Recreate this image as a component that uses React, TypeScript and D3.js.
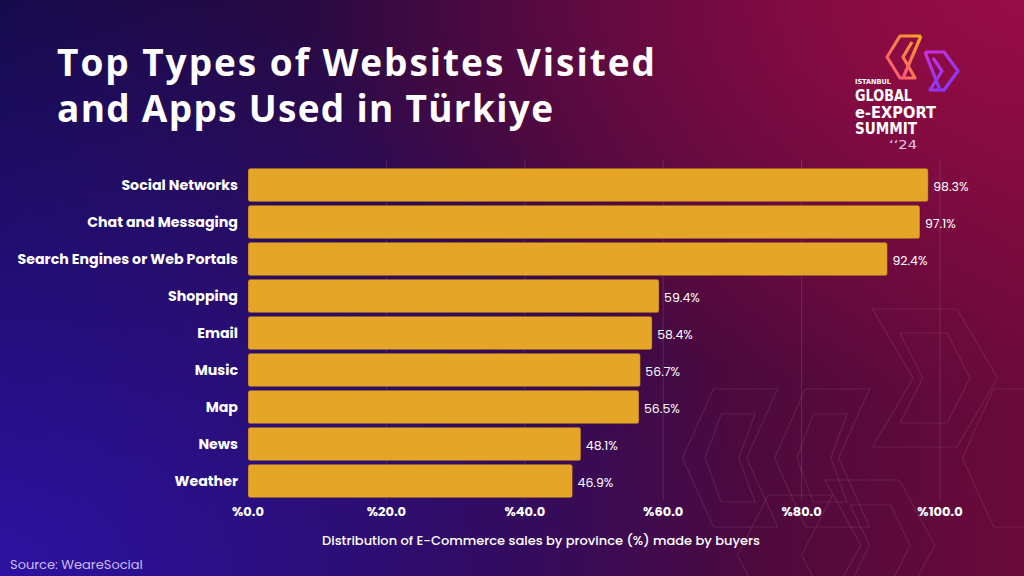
import React from "react";
import * as d3 from "d3";

const categories = [
  "Social Networks",
  "Chat and Messaging",
  "Search Engines or Web Portals",
  "Shopping",
  "Email",
  "Music",
  "Map",
  "News",
  "Weather",
];
const values = [98.3, 97.1, 92.4, 59.4, 58.4, 56.7, 56.5, 48.1, 46.9];
const tickValues = [0, 20, 40, 60, 80, 100];
const tickLabels = ["%0.0", "%20.0", "%40.0", "%60.0", "%80.0", "%100.0"];
const titleLines = ["Top Types of Websites Visited", "and Apps Used in Türkiye"];
const titleWidths = [598, 496];
const axisTitle = "Distribution of E-Commerce sales by province (%) made by buyers";
const sourceText = "Source: WeareSocial";

const W = 1024;
const H = 576;

function chevronPath(cx: number, cy: number, w: number, h: number, dir: number) {
  const hw = w / 2;
  const hh = h / 2;
  const pts = [
    [cx - hw, cy - hh],
    [cx + hw * 0.35, cy - hh],
    [cx + hw, cy],
    [cx + hw * 0.35, cy + hh],
    [cx - hw, cy + hh],
    [cx - hw * 0.35, cy],
  ].map(([px, py]) => [cx + (px - cx) * dir, py]);
  return "M" + pts.map((p) => p.join(",")).join("L") + "Z";
}

export default function App() {
  const x = d3.scaleLinear().domain([0, 100]).range([248, 940]);
  const y = d3
    .scaleBand<string>()
    .domain(categories)
    .range([166.5, 499.5])
    .paddingInner(0.1)
    .paddingOuter(0.05);

  const decor = [
    { cx: 935, cy: 378, w: 125, h: 138, dir: 1 },
    { cx: 935, cy: 378, w: 70, h: 90, dir: 1 },
    { cx: 730, cy: 458, w: 95, h: 138, dir: -1 },
    { cx: 730, cy: 458, w: 50, h: 88, dir: -1 },
    { cx: 822, cy: 458, w: 95, h: 138, dir: -1 },
    { cx: 822, cy: 458, w: 50, h: 88, dir: -1 },
    { cx: 1010, cy: 458, w: 95, h: 138, dir: -1 },
    { cx: 880, cy: 545, w: 110, h: 130, dir: 1 },
    { cx: 880, cy: 545, w: 60, h: 80, dir: 1 },
    { cx: 785, cy: 555, w: 95, h: 120, dir: -1 },
  ];

  return (
    <svg
      width={W}
      height={H}
      viewBox={`0 0 ${W} ${H}`}
      style={{ position: "absolute", left: 0, top: 0, display: "block" }}
      fontFamily="Poppins, Inter, 'Open Sans', sans-serif"
    >
      <defs>
        <linearGradient id="bgBase" x1="0" y1="0" x2="1" y2="0">
          <stop offset="0" stopColor="#150a48" />
          <stop offset="0.5" stopColor="#35093f" />
          <stop offset="1" stopColor="#6a0a3a" />
        </linearGradient>
        <radialGradient id="glowBL" cx="0" cy="1" r="0.75" gradientTransform="scale(1,1.4) translate(0,-0.29)">
          <stop offset="0" stopColor="#2e12a6" stopOpacity="0.95" />
          <stop offset="1" stopColor="#2e12a6" stopOpacity="0" />
        </radialGradient>
        <radialGradient id="glowTR" cx="1" cy="0" r="0.7">
          <stop offset="0" stopColor="#9a0c45" stopOpacity="0.95" />
          <stop offset="1" stopColor="#9a0c45" stopOpacity="0" />
        </radialGradient>
        <linearGradient id="logoOrange" x1="0" y1="1" x2="1" y2="0">
          <stop offset="0" stopColor="#ff4f7a" />
          <stop offset="1" stopColor="#f5a623" />
        </linearGradient>
        <linearGradient id="logoPurple" x1="0" y1="0" x2="1" y2="1">
          <stop offset="0" stopColor="#d12ee0" />
          <stop offset="1" stopColor="#7a3cff" />
        </linearGradient>
      </defs>

      <rect x={0} y={0} width={W} height={H} fill="url(#bgBase)" />
      <rect x={0} y={0} width={W} height={H} fill="url(#glowBL)" />
      <rect x={0} y={0} width={W} height={H} fill="url(#glowTR)" />

      {/* decorative outlines */}
      <g fill="none" stroke="#ffffff" strokeOpacity={0.09} strokeWidth={1.2}>
        {decor.map((d, i) => (
          <path key={i} d={chevronPath(d.cx, d.cy, d.w, d.h, d.dir)} />
        ))}
      </g>

      {/* title */}
      <g fill="#ffffff" fontFamily="'Open Sans', Lato, sans-serif" fontWeight={700} fontSize={37}>
        {titleLines.map((t, i) => (
          <text key={i} x={57} y={76 + i * 46} textLength={titleWidths[i]} lengthAdjust="spacing">
            {t}
          </text>
        ))}
      </g>

      {/* logo */}
      <g>
        <path
          d="M921,36 L900,36 L887,57 L900,78 L915,78 L903,57 L912,42"
          fill="none"
          stroke="url(#logoOrange)"
          strokeWidth={3.2}
          strokeLinejoin="round"
        />
        <path d="M921,36 L903,78" fill="none" stroke="url(#logoOrange)" strokeWidth={3.2} />
        <path
          d="M925,52 L944,52 L958,71 L944,90 L930,90 L942,71 L933,58"
          fill="none"
          stroke="url(#logoPurple)"
          strokeWidth={3.2}
          strokeLinejoin="round"
        />
        <path d="M925,52 L940,90" fill="none" stroke="url(#logoPurple)" strokeWidth={3.2} />
        <g fill="#ffffff" fontFamily="'DejaVu Sans', sans-serif" fontWeight={700}>
          <text x={855} y={84} fontSize={7} textLength={36} lengthAdjust="spacingAndGlyphs">
            ISTANBUL
          </text>
          <text x={855} y={101} fontSize={15} textLength={57} lengthAdjust="spacingAndGlyphs">
            GLOBAL
          </text>
          <text x={855} y={117.5} fontSize={15} textLength={81} lengthAdjust="spacingAndGlyphs">
            e-EXPORT
          </text>
          <text x={855} y={134} fontSize={15} textLength={62} lengthAdjust="spacingAndGlyphs">
            SUMMIT
          </text>
          <text x={889} y={149} fontSize={12} fill="#d9c9e6" fontWeight={400} textLength={28} lengthAdjust="spacingAndGlyphs">
            ‘‘24
          </text>
        </g>
      </g>

      {/* gridlines */}
      <g stroke="#ffffff" strokeOpacity={0.12} strokeWidth={1}>
        {tickValues.slice(1).map((t) => (
          <line key={t} x1={x(t)} x2={x(t)} y1={160} y2={500} />
        ))}
      </g>

      {/* bars */}
      <g>
        {categories.map((c, i) => (
          <rect
            key={c}
            x={x(0)}
            y={y(c)!}
            width={x(values[i]) - x(0)}
            height={y.bandwidth()}
            rx={2.5}
            fill="#e5a526"
            stroke="#3a0a30"
            strokeOpacity={0.4}
            strokeWidth={0.8}
          />
        ))}
      </g>

      {/* category labels */}
      <g fill="#ffffff" fontWeight={700} fontSize={14.2} textAnchor="end">
        {categories.map((c) => (
          <text key={c} x={238} y={y(c)! + y.bandwidth() / 2} dominantBaseline="central">
            {c}
          </text>
        ))}
      </g>

      {/* value labels */}
      <g fill="#ffffff" fontSize={12.5} fontWeight={400}>
        {categories.map((c, i) => (
          <text key={c} x={x(values[i]) + 5} y={y(c)! + y.bandwidth() / 2 + 1} dominantBaseline="central">
            {values[i].toFixed(1)}%
          </text>
        ))}
      </g>

      {/* x ticks */}
      <g fill="#ffffff" fontWeight={700} fontSize={13} textAnchor="middle">
        {tickValues.map((t, i) => (
          <text key={t} x={x(t)} y={516}>
            {tickLabels[i]}
          </text>
        ))}
      </g>

      {/* axis title */}
      <text x={541} y={545} fill="#ffffff" fontWeight={500} fontSize={13} textAnchor="middle">
        {axisTitle}
      </text>

      {/* source */}
      <text x={10} y={569} fill="#cbbcf2" fontSize={13} fontWeight={400}>
        {sourceText}
      </text>
    </svg>
  );
}
